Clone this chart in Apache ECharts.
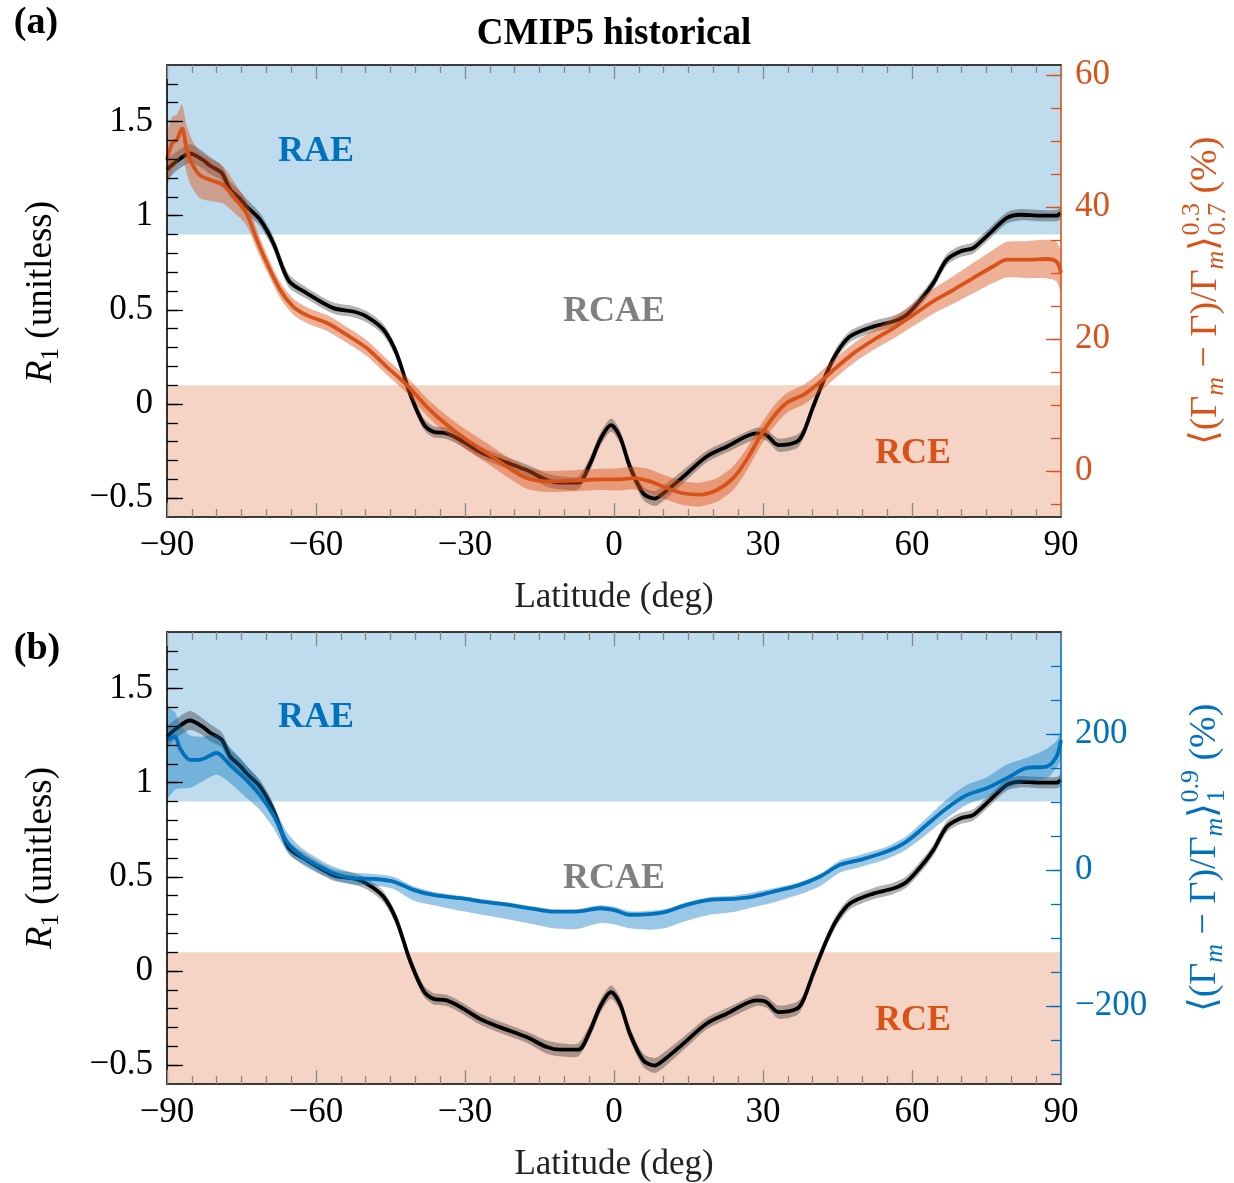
<!DOCTYPE html>
<html><head><meta charset="utf-8">
<script src="https://cdn.jsdelivr.net/npm/echarts@6/dist/echarts.min.js"></script>
<style>html,body{margin:0;padding:0;background:#fff}#c{width:1234px;height:1183px}</style>
</head><body><div id="c"></div>
<script>
// ---------- DATA ----------
// R1 (unitless), shared by both panels
const latR1 = [-90,-88,-85.4,-83,-81.3,-79,-77.3,-75.3,-74,-71.3,-68.6,-65.5,-61.9,-56.5,-52.5,-49.8,-46.4,-43.8,-41.1,-38.4,-36.4,-33.7,-31,-27,-23,-17.6,-13.5,-10.9,-7.2,-4.8,-2.8,-0.6,1.2,3.2,5.9,8.2,9.9,13.9,18.6,22.7,28.7,30.7,33.1,36.8,38.1,40.1,42.8,44.8,47.5,52.2,56.2,58.9,62.3,64.3,67,69.7,72.3,75,79.1,81.7,85.8,89.1,90];
const r1 = [1.245,1.29,1.33,1.30,1.265,1.228,1.14,1.09,1.05,0.98,0.855,0.655,0.589,0.509,0.491,0.464,0.394,0.27,0.057,-0.103,-0.147,-0.156,-0.19,-0.254,-0.298,-0.351,-0.404,-0.418,-0.418,-0.316,-0.19,-0.112,-0.174,-0.333,-0.475,-0.502,-0.475,-0.387,-0.28,-0.227,-0.156,-0.165,-0.218,-0.2,-0.156,-0.014,0.163,0.27,0.358,0.411,0.438,0.473,0.571,0.642,0.766,0.81,0.828,0.89,0.988,1.005,1.0,1.0,1.014];
const r1Spread = [0.05,0.05,0.05,0.045,0.045,0.04,0.04,0.04,0.04,0.035,0.035,0.035,0.03,0.03,0.03,0.03,0.03,0.03,0.03,0.03,0.03,0.03,0.03,0.03,0.03,0.03,0.035,0.035,0.035,0.035,0.035,0.035,0.035,0.035,0.035,0.04,0.04,0.035,0.03,0.03,0.03,0.03,0.035,0.035,0.03,0.03,0.03,0.03,0.03,0.03,0.03,0.03,0.03,0.03,0.03,0.03,0.03,0.03,0.03,0.03,0.03,0.03,0.03];

// Panel (a): <(Gm - G)/Gm>_{0.7}^{0.3} (%)
const latA = [-90,-89,-88,-87,-86,-85,-83.4,-81.3,-78.7,-76,-74,-71.9,-69.9,-67.2,-64.6,-61.9,-57.8,-53.8,-49.8,-45.8,-41.7,-37.7,-33.7,-29.7,-25.6,-21.6,-17.6,-13.5,-8.2,-2.8,1.2,3.9,7.2,10.6,13.9,17.3,20.7,24,26.7,29.4,32.1,34.8,38.1,40.8,44.2,48.2,52.2,56.2,60.2,64.3,68.3,72.3,76.4,79.1,83.1,87.1,89.1,90];
const lapseA = [47.1,49.6,50.2,51.9,48.6,46.6,44.8,44.1,43.3,41,39,35,31.5,27.4,24.9,23.6,22.4,20.6,18.6,15.8,13,9.7,7.0,4.7,2.7,0.65,-1.1,-1.6,-1.5,-1.3,-1.3,-1.1,-1.6,-2.6,-3.4,-3.6,-2.9,-1.1,1.67,5.2,8.2,10.3,11.5,13,15.3,17.8,19.8,21.6,23.6,25.7,27.4,29.2,31,32,32,32.1,31.7,30];
const lapseASpread = [4,4,3.8,3.6,3.6,3.6,3.5,3.2,2.8,2.2,1.8,1.5,1.3,1.2,1.2,1.2,1.2,1.2,1.2,1.2,1.2,1.3,1.4,1.5,1.5,1.5,1.6,1.6,1.6,1.6,1.7,1.7,1.8,1.8,1.8,1.8,1.8,1.8,1.7,1.6,1.6,1.5,1.5,1.5,1.5,1.5,1.5,1.6,1.7,1.9,2.1,2.3,2.5,2.7,2.8,2.9,3,3];

// Panel (b): <(Gm - G)/Gm>_1^{0.9} (%)
const latB = [-90,-88.4,-87.4,-85.4,-83.4,-80,-77.3,-74,-71.3,-68.6,-65.9,-63.2,-59.9,-56.5,-52.5,-48.5,-44.4,-40.4,-36.4,-31,-25.6,-20.3,-16.2,-12.2,-7.5,-2.8,-0.1,3.2,7.2,10.6,14.6,19.3,24,27.4,32.1,37.4,41.5,45.5,49.5,54.9,58.9,62.9,67,71,75,79.1,83.1,87.1,89.1,90];
const lapseB = [191,196,179,162,162,172,154,132,110,81,41.6,22,7.4,-4.9,-12.2,-13.2,-17.2,-29.4,-36.8,-41.7,-47.5,-52.5,-57.4,-61.3,-61.3,-56.4,-58.8,-66,-65,-61.3,-51.5,-44,-42.6,-40.2,-31.9,-22,-9.8,7.4,14.7,27,41.7,66,90.7,110,120,135,150,152,167,191];
const lapseBLo = [106,118,120,121,128,140,128,106,88,62,28,10,-4,-14,-22,-23,-28,-45,-52,-60,-67,-74,-80,-86,-87,-78,-80,-86,-88,-85,-75,-66,-62,-56,-48,-36,-24,-4,4,16,30,52,76,96,106,120,130,135,150,165];
const lapseBHi = [238,232,215,198,196,198,180,154,130,96,56,34,18,5,-4,-6,-10,-24,-32,-38,-44,-49,-54,-58,-58,-52,-54,-61,-60,-57,-48,-40,-38,-34,-27,-18,-6,14,22,34,50,76,104,125,136,155,165,178,190,202];

// Regime thresholds on R1
const RAE_MIN = 0.9;
const RCE_MAX = 0.1;

// Axis ticks
const r1Labels = [-0.5,0,0.5,1,1.5];
const r1Minor = [-0.5,-0.4,-0.3,-0.2,-0.1,0,0.1,0.2,0.3,0.4,0.5,0.6,0.7,0.8,0.9,1,1.1,1.2,1.3,1.4,1.5,1.6,1.7];
const rightALabels = [0,20,40,60];
const rightAMinor = [-5,0,5,10,15,20,25,30,35,40,45,50,55,60];
const rightBLabels = [-200,0,200];
const rightBMinor = [-300,-250,-200,-150,-100,-50,0,50,100,150,200,250,300];

// ---------- STYLE ----------
const FONT = '"Liberation Serif","Times New Roman",serif';
const ORANGE = '#D95319', BLUE = '#0072BD';
const fmt = v => String(v).replace('-', '\u2212');
const TICKFS = 35;

function xAxes(g){
  const base = {type:'value', gridIndex:g, min:-90, max:90, interval:30, z:10,
    axisLine:{show:true, onZero:false, lineStyle:{color:'#000', width:1.6}},
    axisTick:{show:true, inside:true, length:14, lineStyle:{color:'#888', width:1.3}},
    minorTick:{show:true, splitNumber:6, length:8, lineStyle:{color:'#888', width:1.3}},
    splitLine:{show:false}, minorSplitLine:{show:false}};
  return [
    Object.assign({}, base, {position:'bottom',
      axisLabel:{show:true, fontFamily:FONT, fontSize:TICKFS, color:'#000', margin:11, formatter:fmt},
      name:'Latitude (deg)', nameLocation:'middle', nameGap:63,
      nameTextStyle:{fontFamily:FONT, fontSize:35, color:'#222'}}),
    Object.assign({}, base, {position:'top', axisLabel:{show:false}})
  ];
}
function yAxes(g, col, rMin, rMax, rMinor, rMajor){
  const c = {type:'value', gridIndex:g, z:10, splitLine:{show:false}};
  return [
    Object.assign({}, c, {position:'left', min:-0.6, max:1.8,
      axisLine:{show:true, onZero:false, lineStyle:{color:'#000', width:1.6}},
      axisTick:{show:true, inside:true, length:11, customValues:r1Minor, lineStyle:{color:'#000', width:1.3}},
      axisLabel:{show:false, customValues:r1Minor}}),
    Object.assign({}, c, {position:'left', min:-0.6, max:1.8,
      axisLine:{show:false, onZero:false},
      axisTick:{show:true, inside:true, length:16, customValues:r1Labels, lineStyle:{color:'#000', width:1.3}},
      axisLabel:{show:true, customValues:r1Labels, formatter:fmt, fontFamily:FONT, fontSize:TICKFS, color:'#000', margin:14}}),
    Object.assign({}, c, {position:'right', min:rMin, max:rMax,
      axisLine:{show:true, onZero:false, lineStyle:{color:col, width:1.6}},
      axisTick:{show:true, inside:true, length:10, customValues:rMinor, lineStyle:{color:col, width:1.3}},
      axisLabel:{show:false, customValues:rMinor}}),
    Object.assign({}, c, {position:'right', min:rMin, max:rMax,
      axisLine:{show:false, onZero:false},
      axisTick:{show:true, inside:true, length:15, customValues:rMajor, lineStyle:{color:col, width:1.3}},
      axisLabel:{show:true, customValues:rMajor, formatter:fmt, fontFamily:FONT, fontSize:TICKFS, color:col, margin:14}})
  ];
}
function band(xi, yi, lat, lo, hi, color, z){
  return {type:'custom', coordinateSystem:'cartesian2d', xAxisIndex:xi, yAxisIndex:yi, z, silent:true, clip:true,
    data: lat.map((x,i)=>[x, lo[i], hi[i]]),
    encode:{x:0, y:[1,2]},
    renderItem:(params, api)=>{
      if (params.dataIndex !== 0) return;
      const pts = [];
      for (let i=0;i<lat.length;i++) pts.push(api.coord([lat[i], hi[i]]));
      for (let i=lat.length-1;i>=0;i--) pts.push(api.coord([lat[i], lo[i]]));
      return {type:'polygon', shape:{points:pts, smooth:0.25}, style:{fill:color}};
    }};
}
function line(xi, yi, lat, vals, color, z, extra){
  return Object.assign({type:'line', xAxisIndex:xi, yAxisIndex:yi, z, silent:true, smooth:0.3, symbol:'none',
    data: lat.map((x,i)=>[x, vals[i]]), lineStyle:{color, width:3.8}}, extra||{});
}
function regimes(){
  return {silent:true, z:1, label:{show:false},
    data:[
      [{yAxis:RAE_MIN, itemStyle:{color:'rgba(0,114,189,0.25)'}}, {yAxis:1.8}],
      [{yAxis:-0.6, itemStyle:{color:'rgba(217,83,25,0.25)'}}, {yAxis:RCE_MAX}]
    ]};
}

const r1Lo = r1.map((v,i)=>v - r1Spread[i]);
const r1Hi = r1.map((v,i)=>v + r1Spread[i]);
const aLo = lapseA.map((v,i)=>v - lapseASpread[i]);
const aHi = lapseA.map((v,i)=>v + lapseASpread[i]);

// ---------- rotated axis titles built from text pieces ----------
const mctx = document.createElement('canvas').getContext('2d');
function tw(t, s, it){ mctx.font = (it?'italic ':'') + s + 'px ' + FONT; return mctx.measureText(t).width; }
function rotLabel(cx, cy, pieces, color){
  const widths = pieces.map(p => p.stack ? Math.max(...p.stack.map(q=>tw(q.t,q.s,q.it))) : tw(p.t,p.s,p.it));
  const total = widths.reduce((a,b)=>a+b,0);
  let x = -total/2; const children = [];
  pieces.forEach((p,i)=>{
    (p.stack || [p]).forEach(q=>{
      children.push({type:'text', x:x, y:q.dy||0, style:{text:q.t, fill:color,
        font:(q.it?'italic ':'') + q.s + 'px ' + FONT,
        textAlign:'left', align:'left', textVerticalAlign:'middle', verticalAlign:'middle'}});
    });
    x += widths[i];
  });
  return {type:'group', x:cx, y:cy, rotation:Math.PI/2, children, z:20};
}
function txt(x, y, t, size, color, bold){
  return {type:'text', x, y, z:20, style:{text:t, fill:color, font:(bold?'bold ':'') + size + 'px ' + FONT,
    textAlign:'center', align:'center', textVerticalAlign:'middle', verticalAlign:'middle'}};
}
const S = 38, s = 26;
const leftTitle = (cy)=>rotLabel(41, cy, [{t:'R', s:37, it:true}, {t:'1', s:25, dy:10}, {t:' (unitless)', s:37}], '#000');
const rightA = rotLabel(1206, 291, [
  {t:'\u27E8(\u0393', s:S}, {t:'m', s:s, it:true, dy:10}, {t:' \u2212 \u0393)/\u0393', s:S}, {t:'m', s:s, it:true, dy:10},
  {t:'\u27E9', s:S}, {stack:[{t:'0.3', s:s, dy:-14}, {t:'0.7', s:s, dy:12}]}, {t:' (%)', s:S}], ORANGE);
const rightB = rotLabel(1205, 858, [
  {t:'\u27E8(\u0393', s:S}, {t:'m', s:s, it:true, dy:10}, {t:' \u2212 \u0393)/\u0393', s:S}, {t:'m', s:s, it:true, dy:10},
  {t:'\u27E9', s:S}, {stack:[{t:'0.9', s:s, dy:-14}, {t:'1', s:s, dy:12}]}, {t:' (%)', s:S}], BLUE);

const option = {
  animation:false,
  backgroundColor:'#fff',
  grid:[
    {left:167, top:65, width:894, height:452, containLabel:false},
    {left:167, top:632, width:894, height:452, containLabel:false}
  ],
  xAxis:[...xAxes(0), ...xAxes(1)],
  yAxis:[...yAxes(0, ORANGE, -7, 61.5, rightAMinor, rightALabels), ...yAxes(1, BLUE, -315, 350, rightBMinor, rightBLabels)],
  series:[
    // panel a
    band(0, 0, latR1, r1Lo, r1Hi, 'rgba(0,0,0,0.3)', 2),
    line(0, 0, latR1, r1, '#000', 3, {markArea: regimes()}),
    band(0, 2, latA, aLo, aHi, 'rgba(217,83,25,0.45)', 4),
    line(0, 2, latA, lapseA, ORANGE, 5),
    // panel b
    band(2, 4, latR1, r1Lo, r1Hi, 'rgba(0,0,0,0.3)', 2),
    line(2, 4, latR1, r1, '#000', 3, {markArea: regimes()}),
    band(2, 6, latB, lapseBLo, lapseBHi, 'rgba(0,114,189,0.4)', 4),
    line(2, 6, latB, lapseB, BLUE, 5)
  ],
  graphic:[
    txt(614, 34, 'CMIP5 historical', 37, '#000', true),
    txt(36, 23, '(a)', 38, '#000', true),
    txt(37, 649, '(b)', 38, '#000', true),
    txt(316, 152, 'RAE', 36, BLUE, true),
    txt(614, 312, 'RCAE', 36, '#808080', true),
    txt(913, 454, 'RCE', 36, ORANGE, true),
    txt(316, 718, 'RAE', 36, BLUE, true),
    txt(614, 879, 'RCAE', 36, '#808080', true),
    txt(913, 1021, 'RCE', 36, ORANGE, true),
    leftTitle(292), leftTitle(858), rightA, rightB
  ]
};
const chart = echarts.init(document.getElementById('c'), null, {renderer:'canvas'});
chart.setOption(option);
</script>
</body></html>
